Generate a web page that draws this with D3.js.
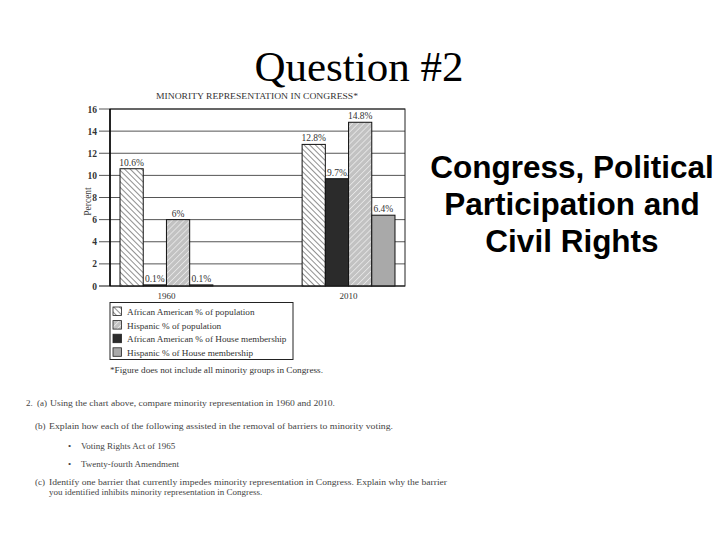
<!DOCTYPE html>
<html><head><meta charset="utf-8">
<script src="https://cdn.jsdelivr.net/npm/d3@7"></script>
<style>html,body{margin:0;padding:0;background:#fff;} svg{display:block;}</style>
</head><body>
<script>
// ---- data ----
const years = ["1960", "2010"];
const seriesKeys = ["aaPop", "aaHouse", "hispPop", "hispHouse"];
const seriesNames = ["African American % of population", "African American % of House membership", "Hispanic % of population", "Hispanic % of House membership"];
const aaPop = [10.6, 12.8];
const aaHouse = [0.1, 9.7];
const hispPop = [6, 14.8];
const hispHouse = [0.1, 6.4];
const legendOrder = ["aaPop", "hispPop", "aaHouse", "hispHouse"];
const yTicks = [0, 2, 4, 6, 8, 10, 12, 14, 16];
const chartTitle = "MINORITY REPRESENTATION IN CONGRESS*";
const footnote = "*Figure does not include all minority groups in Congress.";
const slideTitle = "Question #2";
const sideLines = ["Congress, Political", "Participation and", "Civil Rights"];

(function () {
const values = {aaPop, aaHouse, hispPop, hispHouse};
const table = [];
years.forEach((yr, i) => seriesKeys.forEach((k, j) => table.push({year: yr, key: k, value: values[k][i]})));

const W = 720, H = 540;
const svg = d3.select("body").append("svg").attr("width", W).attr("height", H);
const defs = svg.append("defs");

// patterns
const p1 = defs.append("pattern").attr("id", "hatchAA").attr("patternUnits", "userSpaceOnUse")
  .attr("width", 4).attr("height", 4).attr("patternTransform", "rotate(-45)");
p1.append("rect").attr("width", 4).attr("height", 4).attr("fill", "#fff");
p1.append("line").attr("x1", 0).attr("y1", 0).attr("x2", 0).attr("y2", 4).attr("stroke", "#222").attr("stroke-width", 1);
const p2 = defs.append("pattern").attr("id", "hatchHisp").attr("patternUnits", "userSpaceOnUse")
  .attr("width", 4.2).attr("height", 4.2).attr("patternTransform", "rotate(45)");
p2.append("rect").attr("width", 4.2).attr("height", 4.2).attr("fill", "#c2c2c2");
p2.append("line").attr("x1", 0).attr("y1", 0).attr("x2", 0).attr("y2", 4.2).attr("stroke", "#f2f2f2").attr("stroke-width", 1.3);

const fills = d3.scaleOrdinal().domain(seriesKeys).range(["url(#hatchAA)", "#2b2b2b", "url(#hatchHisp)", "#a9a9a9"]);
const names = d3.scaleOrdinal().domain(seriesKeys).range(seriesNames);

// slide title
svg.append("text").attr("x", 359).attr("y", 81).attr("text-anchor", "middle")
  .attr("font-family", "Liberation Serif, Times New Roman, serif").attr("font-size", 43).attr("fill", "#000")
  .text(slideTitle);

// side text
svg.append("g").selectAll("text").data(sideLines).join("text")
  .attr("x", 572).attr("y", (d, i) => [178, 215, 252][i]).attr("text-anchor", "middle")
  .attr("font-family", "Liberation Sans, Arial, sans-serif").attr("font-weight", "bold").attr("font-size", 31.5)
  .attr("fill", "#000").text(d => d);

// chart
const pl = 110, pr = 405, pt = 109, pb = 286;
const x0 = d3.scaleBand().domain(years).range([pl, pr]).paddingInner(0.49).paddingOuter(0.055);
const x1 = d3.scaleBand().domain(seriesKeys).range([0, x0.bandwidth()]);
const y = d3.scaleLinear().domain([0, 16]).range([pb, pt]);

svg.append("text").attr("x", 257).attr("y", 99).attr("text-anchor", "middle")
  .attr("font-family", "Liberation Serif, serif").attr("font-size", 8.5).attr("fill", "#333")
  .attr("textLength", 202).attr("lengthAdjust", "spacingAndGlyphs").text(chartTitle);

// gridlines & ticks
svg.append("g").selectAll("line").data(yTicks).join("line")
  .attr("x1", pl - 11).attr("x2", pr).attr("y1", d => y(d)).attr("y2", d => y(d))
  .attr("stroke", d => d === 0 ? "#111" : "#555").attr("stroke-width", 1);

const yAxis = d3.axisLeft(y).tickValues(yTicks).tickSize(0).tickPadding(13);
const ga = svg.append("g").attr("transform", `translate(${pl},0)`).call(yAxis);
ga.select(".domain").remove();
ga.selectAll("text").attr("font-family", "Liberation Serif, serif").attr("font-size", 9.5).attr("fill", "#333").attr("font-weight", "bold");

svg.append("text").attr("transform", `translate(91,${(pt + pb) / 2 + 4}) rotate(-90)`).attr("text-anchor", "middle")
  .attr("font-family", "Liberation Serif, serif").attr("font-size", 9.5).attr("fill", "#444").text("Percent");

// bars
svg.append("g").selectAll("rect").data(table).join("rect")
  .attr("x", d => x0(d.year) + x1(d.key)).attr("width", x1.bandwidth())
  .attr("y", d => y(d.value)).attr("height", d => y(0) - y(d.value))
  .attr("fill", d => fills(d.key)).attr("stroke", "#111").attr("stroke-width", 1);

// frame
svg.append("rect").attr("x", pl).attr("y", pt).attr("width", pr - pl).attr("height", pb - pt)
  .attr("fill", "none").attr("stroke", "#222").attr("stroke-width", 1);
svg.append("line").attr("x1", pl).attr("x2", pl).attr("y1", pt).attr("y2", pb).attr("stroke", "#000").attr("stroke-width", 1.5);

// value labels
const fmt = v => v + "%";
const lab = svg.append("g").selectAll("g").data(table).join("g")
  .attr("transform", d => `translate(${x0(d.year) + x1(d.key) + x1.bandwidth() / 2},${y(d.value) - 3})`);
lab.append("rect").attr("x", -10.5).attr("y", -8.5).attr("width", 21).attr("height", 9.5).attr("fill", "#fff")
  .attr("opacity", d => d.value > 1 ? 1 : 0);
lab.append("text").attr("text-anchor", "middle")
  .attr("font-family", "Liberation Serif, serif").attr("font-size", 9.5).attr("fill", "#333").text(d => fmt(d.value));

// year labels
svg.append("g").selectAll("text").data(years).join("text")
  .attr("x", d => x0(d) + x0.bandwidth() / 2).attr("y", 299).attr("text-anchor", "middle")
  .attr("font-family", "Liberation Serif, serif").attr("font-size", 9).attr("fill", "#333").text(d => d);

// legend
svg.append("rect").attr("x", 110).attr("y", 302.5).attr("width", 183).attr("height", 57)
  .attr("fill", "#fff").attr("stroke", "#222").attr("stroke-width", 1);
const lg = svg.append("g").selectAll("g").data(legendOrder).join("g")
  .attr("transform", (d, i) => `translate(113,${307 + i * 13.6})`);
lg.append("rect").attr("width", 8.5).attr("height", 8.5).attr("fill", d => fills(d)).attr("stroke", "#222").attr("stroke-width", 0.8);
lg.append("text").attr("x", 14).attr("y", 8).attr("font-family", "Liberation Serif, serif").attr("font-size", 9.2)
  .attr("fill", "#333").text(d => names(d));

svg.append("text").attr("x", 110).attr("y", 373).attr("font-family", "Liberation Serif, serif").attr("font-size", 8.5)
  .attr("fill", "#333").attr("textLength", 213).attr("lengthAdjust", "spacingAndGlyphs").text(footnote);

// question text
const q = svg.append("g").attr("font-family", "Liberation Serif, serif").attr("font-size", 9).attr("fill", "#444");
const qLines = [
  {x: 26, y: 406, t: "2."},
  {x: 37, y: 406, t: "(a)"},
  {x: 50, y: 406, t: "Using the chart above, compare minority representation in 1960 and 2010.", len: 285},
  {x: 35, y: 429, t: "(b)"},
  {x: 49, y: 429, t: "Explain how each of the following assisted in the removal of barriers to minority voting.", len: 344},
  {x: 68, y: 449, t: "•"},
  {x: 81, y: 449, t: "Voting Rights Act of 1965"},
  {x: 68, y: 467, t: "•"},
  {x: 81, y: 467, t: "Twenty-fourth Amendment"},
  {x: 35, y: 485, t: "(c)"},
  {x: 49, y: 485, t: "Identify one barrier that currently impedes minority representation in Congress. Explain why the barrier", len: 398},
  {x: 49, y: 495, t: "you identified inhibits minority representation in Congress."}
];
qLines.forEach(l => {
  const t = q.append("text").attr("x", l.x).attr("y", l.y).text(l.t);
  if (l.len) t.attr("textLength", l.len).attr("lengthAdjust", "spacingAndGlyphs");
});
})();
</script>
</body></html>
